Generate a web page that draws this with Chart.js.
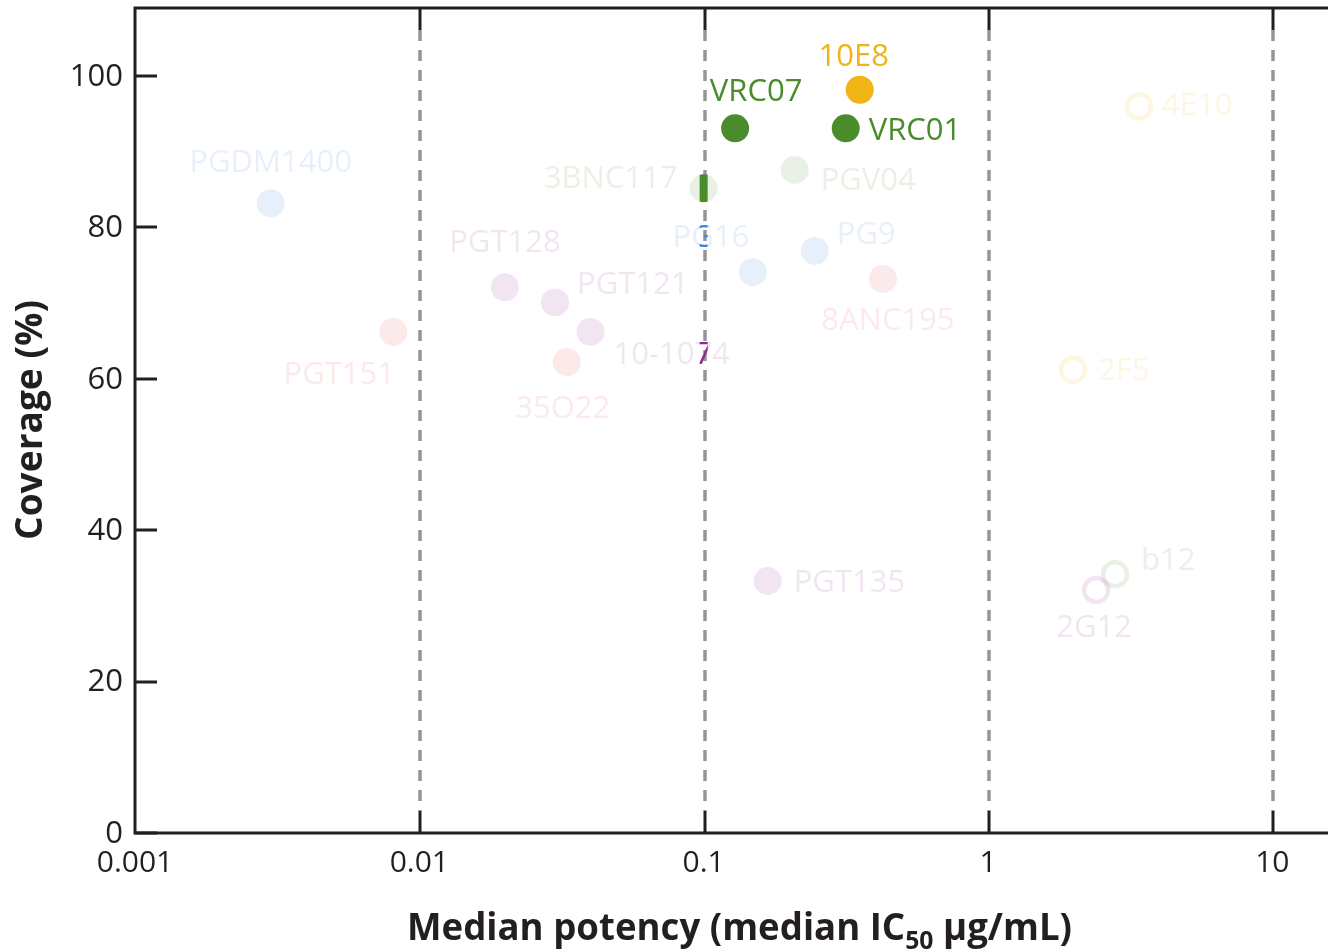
<!DOCTYPE html>
<html>
<head>
<meta charset="utf-8">
<script src="https://cdn.jsdelivr.net/npm/chart.js@4/dist/chart.umd.min.js"></script>
<style>
  html, body { margin: 0; padding: 0; background: #fff; }
  #wrap { width: 1328px; height: 950px; position: relative; }
</style>
</head>
<body>
<div id="wrap"><canvas id="chart"></canvas></div>
<script>
// --- data ---
const antibodies = ['PGDM1400', 'PGT151', 'PGT128', 'PGT121', '10-1074', '35O22', '3BNC117', 'PG16', 'PG9', 'PGV04',
                    '8ANC195', 'PGT135', 'VRC07', 'VRC01', '10E8', '4E10', '2F5', 'b12', '2G12'];
const potency  = [0.0030, 0.0081, 0.020, 0.030, 0.040, 0.033, 0.100, 0.149, 0.246, 0.209,
                  0.427, 0.168, 0.129, 0.316, 0.354, 3.40, 1.99, 2.80, 2.40];
const coverage = [83.2, 66.2, 72.1, 70.1, 66.2, 62.2, 85.2, 74.1, 76.9, 87.6,
                  73.2, 33.3, 93.1, 93.1, 98.2, 96.0, 61.2, 34.2, 32.1];
const epitope  = ['V2', 'interface', 'V3', 'V3', 'V3', 'interface', 'CD4bs', 'V2', 'V2', 'CD4bs',
                  'interface', 'V3', 'CD4bs', 'CD4bs', 'MPER', 'MPER', 'MPER', 'CD4bs', 'V3'];
const highlighted = ['VRC07', 'VRC01', '10E8'];
const openMarker  = ['4E10', '2F5', 'b12', '2G12'];

const yTickValues = [0, 20, 40, 60, 80, 100];
const xTickValues = [0.001, 0.01, 0.1, 1, 10];
const xTickLabels = ['0.001', '0.01', '0.1', '1', '10'];

// --- styles ---
const epitopeColor = {
    V2: [60, 135, 215],
    interface: [232, 72, 72],
    V3: [145, 40, 145],
    CD4bs: [74, 140, 44],
    MPER: [240, 180, 20]
};
const FADE = 0.12;
const INK = '#231f20';

// label placement relative to the marker: [dx, dy, align]
const labelPlace = {
    'PGDM1400': [0, -40, 'center'], 'PGT151': [-54, 43, 'center'], 'PGT128': [0, -44, 'center'],
    'PGT121': [22, -17, 'left'], '10-1074': [23, 23, 'left'], '35O22': [-4, 47, 'center'],
    '3BNC117': [-26, -9, 'right'], 'PG16': [-42, -34, 'center'], 'PG9': [22, -16, 'left'],
    'PGV04': [26, 11, 'left'], '8ANC195': [5, 42, 'center'], 'PGT135': [26, 2, 'left'],
    'VRC07': [21, -36, 'center'], 'VRC01': [23, 3, 'left'], '10E8': [-6, -33, 'center'],
    '4E10': [23, 0, 'left'], '2F5': [25, 1, 'left'], 'b12': [26, -13, 'left'], '2G12': [-2, 38, 'center']
};

function colorOf(i, full) {
    const c = epitopeColor[epitope[i]];
    const a = (full || highlighted.includes(antibodies[i])) ? 1 : FADE;
    return `rgba(${c[0]},${c[1]},${c[2]},${a})`;
}

const points = antibodies.map((n, i) => ({ x: potency[i], y: coverage[i] }));
const isOpen = i => openMarker.includes(antibodies[i]);

// --- frame, inward ticks, tick labels and dashed decade lines ---
const framePlugin = {
    id: 'frame',
    beforeDatasetsDraw(chart) {
        const { ctx, chartArea: a, scales: { x, y } } = chart;
        ctx.save();
        ctx.strokeStyle = '#959698';
        ctx.lineWidth = 3.5;
        ctx.setLineDash([11, 9]);
        xTickValues.slice(1).forEach(v => {
            const px = Math.round(x.getPixelForValue(v)) + 1;
            ctx.beginPath();
            ctx.moveTo(px, a.top + 22);
            ctx.lineTo(px, a.bottom - 22);
            ctx.stroke();
        });
        ctx.setLineDash([]);
        ctx.lineWidth = 3;
        ctx.strokeStyle = INK;
        xTickValues.slice(1).forEach(v => {
            const px = Math.round(x.getPixelForValue(v)) + 1;
            ctx.beginPath();
            ctx.moveTo(px, a.bottom); ctx.lineTo(px, a.bottom - 22);
            ctx.moveTo(px, a.top); ctx.lineTo(px, a.top + 22);
            ctx.stroke();
        });
        yTickValues.forEach(v => {
            const py = Math.round(y.getPixelForValue(v));
            ctx.beginPath();
            ctx.moveTo(a.left, py); ctx.lineTo(a.left + 22, py);
            ctx.stroke();
        });
        ctx.beginPath();
        ctx.moveTo(a.right + 2, a.top);
        ctx.lineTo(a.left, a.top);
        ctx.lineTo(a.left, a.bottom);
        ctx.lineTo(a.right + 2, a.bottom);
        ctx.stroke();

        // tick labels
        ctx.fillStyle = INK;
        ctx.font = '31px "Open Sans"';
        ctx.textAlign = 'right';
        ctx.textBaseline = 'middle';
        yTickValues.forEach(v => ctx.fillText(String(v), a.left - 12, y.getPixelForValue(v) + 1));
        ctx.font = '30px "Open Sans"';
        ctx.textAlign = 'center';
        xTickValues.forEach((v, i) => ctx.fillText(xTickLabels[i], x.getPixelForValue(v), a.bottom + 30));
        ctx.restore();
    }
};

function drawLabels(chart, full) {
    const { ctx } = chart;
    const meta = chart.getDatasetMeta(0);
    ctx.font = '31px "Open Sans"';
    ctx.textBaseline = 'middle';
    meta.data.forEach((el, i) => {
        const p = labelPlace[antibodies[i]];
        ctx.fillStyle = colorOf(i, full);
        ctx.textAlign = p[2];
        ctx.fillText(antibodies[i], el.x + p[0], el.y + p[1]);
    });
}

// --- labels, plus the unfaded sliver along the 0.1 line seen in the original ---
const labelPlugin = {
    id: 'labels',
    afterDatasetsDraw(chart) {
        const { ctx, chartArea: a, scales: { x } } = chart;
        ctx.save();
        drawLabels(chart, false);
        ctx.restore();

        const gx = x.getPixelForValue(0.1);
        ctx.save();
        ctx.beginPath();
        ctx.rect(gx - 4, a.top, 8, a.bottom - a.top);
        ctx.clip();
        const meta = chart.getDatasetMeta(0);
        meta.data.forEach((el, i) => {
            if (isOpen(i)) return;
            ctx.fillStyle = colorOf(i, true);
            ctx.beginPath();
            ctx.arc(el.x, el.y, el.options.radius, 0, Math.PI * 2);
            ctx.fill();
        });
        drawLabels(chart, true);
        ctx.restore();
    }
};

// --- axis titles ---
const titlePlugin = {
    id: 'titles',
    afterDraw(chart) {
        const { ctx } = chart;
        ctx.save();
        ctx.fillStyle = INK;
        ctx.textBaseline = 'alphabetic';
        ctx.textAlign = 'left';

        const big = 'bold 37px "Open Sans"';
        const small = 'bold 25px "Open Sans"';
        const t1 = 'Median potency (median IC', t2 = '50', t3 = ' µg/mL)';
        ctx.font = big;
        const w1 = ctx.measureText(t1).width, w3 = ctx.measureText(t3).width;
        ctx.font = small;
        const w2 = ctx.measureText(t2).width;
        const total = w1 + w2 + w3;
        const target = 665;
        const sx = target / total;
        ctx.translate(407, 940);
        ctx.scale(sx, 1);
        ctx.font = big;
        ctx.fillText(t1, 0, 0);
        ctx.font = small;
        ctx.fillText(t2, w1, 9);
        ctx.font = big;
        ctx.fillText(t3, w1 + w2, 0);
        ctx.restore();

        ctx.save();
        ctx.fillStyle = INK;
        ctx.font = big;
        ctx.textAlign = 'center';
        ctx.textBaseline = 'alphabetic';
        const wy = ctx.measureText('Coverage (%)').width;
        ctx.translate(42, 420);
        ctx.rotate(-Math.PI / 2);
        ctx.scale(240 / wy, 1);
        ctx.fillText('Coverage (%)', 0, 0);
        ctx.restore();
    }
};

new Chart(document.getElementById('chart'), {
    type: 'scatter',
    data: {
        datasets: [{
            data: points,
            clip: false,
            pointHoverRadius: 14,
            pointBorderWidth: ctx => isOpen(ctx.dataIndex) ? 4.5 : 0,
            pointBackgroundColor: ctx => isOpen(ctx.dataIndex) ? 'rgba(0,0,0,0)' : colorOf(ctx.dataIndex),
            pointBorderColor: ctx => colorOf(ctx.dataIndex),
            pointRadius: ctx => isOpen(ctx.dataIndex) ? 12 : 14
        }]
    },
    options: {
        responsive: true,
        maintainAspectRatio: false,
        animation: false,
        layout: { autoPadding: false, padding: { top: 8, right: 0, left: 0, bottom: 0 } },
        plugins: { legend: { display: false }, tooltip: { enabled: false } },
        scales: {
            x: {
                type: 'logarithmic',
                min: 0.001,
                max: 15.7,
                grid: { display: false, drawTicks: false },
                border: { display: false },
                ticks: { display: false },
                afterBuildTicks: s => { s.ticks = xTickValues.map(v => ({ value: v })); },
                afterFit: s => { s.height = 117; }
            },
            y: {
                min: 0,
                max: 109,
                grid: { display: false, drawTicks: false },
                border: { display: false },
                ticks: { display: false },
                afterBuildTicks: s => { s.ticks = yTickValues.map(v => ({ value: v })); },
                afterFit: s => { s.width = 135; }
            }
        }
    },
    plugins: [framePlugin, labelPlugin, titlePlugin]
});
</script>
</body>
</html>
